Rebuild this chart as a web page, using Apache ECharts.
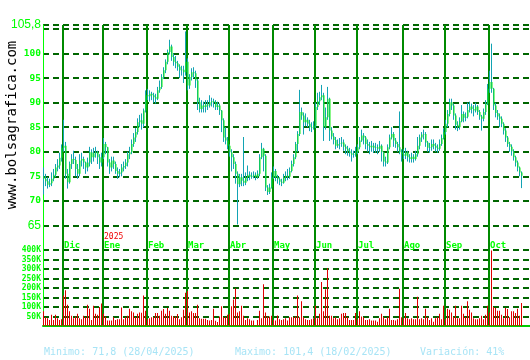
<!DOCTYPE html>
<html>
<head>
<meta charset="utf-8">
<script src="https://cdn.jsdelivr.net/npm/echarts@6/dist/echarts.min.js"></script>
<style>html,body{margin:0;padding:0;background:#fff}#c{width:530px;height:360px}</style>
</head>
<body>
<div id="c"></div>
<script>
// ---- data ----
const months = ['Nov','Dic','Ene','Feb','Mar','Abr','May','Jun','Jul','Ago','Sep','Oct'];
const monthDays = [10,20,22,20,21,22,21,21,23,21,22,21];
const yearMarks = {Ene:'2025'};
const priceTicks = {min:60, max:105.8, interval:5};
const volTicks = {min:0, max:400000, interval:50000};
const footer = ['Minimo: 71,8 (28/04/2025)','Maximo: 101,4 (18/02/2025)','Variación: 41%'];
const siteLabel = 'www.bolsagrafica.com';

const openP = [75.0,74.5,74.0,73.3,73.6,74.5,75.3,76.8,77.2,78.8,
80.8,81.2,75.5,73.8,77.5,78.5,78.3,76.5,75.5,78.2,
78.5,77.8,76.8,77.8,79.9,78.9,79.7,79.9,78.9,77.8,
78.9,81.6,80.9,77.8,76.8,78.2,77.5,76.1,75.5,75.8,
76.8,77.1,77.8,79.5,79.9,81.6,82.9,84.0,86.0,86.4,
85.7,88.4,91.5,91.3,91.8,91.5,91.1,90.8,92.5,93.2,
95.2,96.6,98.3,100.3,101.4,99.3,98.3,98.0,97.3,96.6,
96.7,96.2,98.3,93.5,95.2,96.2,96.0,94.5,90.1,88.7,
89.4,89.1,89.6,89.4,90.1,90.3,90.1,89.1,89.4,88.4,
86.4,82.9,82.3,81.2,79.9,78.9,77.5,75.5,73.4,74.8,
74.1,73.7,74.8,75.3,74.9,75.1,75.3,74.8,75.5,78.9,
80.6,79.2,72.7,71.8,72.7,74.8,76.1,74.8,74.4,73.9,
73.7,74.8,75.1,74.9,76.1,77.5,78.9,81.6,83.6,88.1,
87.4,86.0,86.5,85.7,85.0,84.9,85.3,89.1,90.3,91.1,
91.5,85.0,87.0,90.8,84.3,83.1,82.4,81.2,81.6,81.7,
81.9,81.0,80.6,80.1,79.7,79.4,79.5,79.9,80.9,82.3,
83.3,82.9,81.6,81.2,80.9,81.2,80.8,80.9,80.6,81.2,
79.9,78.0,77.8,80.9,82.9,83.6,82.3,81.6,80.9,79.9,
79.5,79.2,79.9,78.9,78.5,79.0,78.5,79.5,81.2,82.9,
83.5,83.6,81.9,80.8,80.9,81.6,81.2,80.8,80.6,81.6,
82.8,84.0,85.7,87.7,90.1,89.4,87.4,85.5,85.0,86.2,
87.7,86.9,87.1,88.5,89.2,88.7,88.4,89.2,88.1,87.2,
86.7,88.1,89.8,92.8,94.2,92.8,89.4,87.9,87.2,86.7,
85.7,84.3,82.9,81.6,81.0,80.1,78.9,77.8,76.8,75.8];

const closeP = [74.5,74.0,73.3,73.6,74.5,75.3,76.8,77.2,78.8,80.8,
81.2,75.5,73.8,77.5,78.5,78.3,76.5,75.5,78.2,78.5,
77.8,76.8,77.8,79.9,78.9,79.7,79.9,78.9,77.8,78.9,
81.6,80.9,77.8,76.8,78.2,77.5,76.1,75.5,75.8,76.8,
77.1,77.8,79.5,79.9,81.6,82.9,84.0,86.0,86.4,85.7,
88.4,91.5,91.3,91.8,91.5,91.1,90.8,92.5,93.2,95.2,
96.6,98.3,100.3,101.4,99.3,98.3,98.0,97.3,96.6,96.7,
96.2,98.3,93.5,95.2,96.2,96.0,94.5,90.1,88.7,89.4,
89.1,89.6,89.4,90.1,90.3,90.1,89.1,89.4,88.4,86.4,
82.9,82.3,81.2,79.9,78.9,77.5,75.5,73.4,74.8,74.1,
73.7,74.8,75.3,74.9,75.1,75.3,74.8,75.5,78.9,80.6,
79.2,72.7,71.8,72.7,74.8,76.1,74.8,74.4,73.9,73.7,
74.8,75.1,74.9,76.1,77.5,78.9,81.6,83.6,88.1,87.4,
86.0,86.5,85.7,85.0,84.9,85.3,89.1,90.3,91.1,91.5,
85.0,87.0,90.8,84.3,83.1,82.4,81.2,81.6,81.7,81.9,
81.0,80.6,80.1,79.7,79.4,79.5,79.9,80.9,82.3,83.3,
82.9,81.6,81.2,80.9,81.2,80.8,80.9,80.6,81.2,79.9,
78.0,77.8,80.9,82.9,83.6,82.3,81.6,80.9,79.9,79.5,
79.2,79.9,78.9,78.5,79.0,78.5,79.5,81.2,82.9,83.5,
83.6,81.9,80.8,80.9,81.6,81.2,80.8,80.6,81.6,82.8,
84.0,85.7,87.7,90.1,89.4,87.4,85.5,85.0,86.2,87.7,
86.9,87.1,88.5,89.2,88.7,88.4,89.2,88.1,87.2,86.7,
88.1,89.8,92.8,94.2,92.8,89.4,87.9,87.2,86.7,85.7,
84.3,82.9,81.6,81.0,80.1,78.9,77.8,76.8,75.8,75.1];

const highP = [76.8,75.5,74.8,74.5,75.8,76.5,77.5,78.5,79.8,81.5,
86.5,82.0,76.5,78.0,79.5,80.2,79.0,77.5,79.5,79.8,
79.0,78.0,78.8,81.0,80.5,80.8,81.0,80.2,79.5,79.8,
82.8,82.0,81.0,78.5,79.0,79.0,78.0,76.8,76.5,77.5,
78.0,78.5,80.0,81.0,82.5,83.8,84.8,86.8,87.5,87.8,
88.8,92.5,92.8,92.5,92.2,92.0,91.8,93.2,94.5,95.8,
97.2,98.8,100.8,102.8,101.8,100.0,99.5,98.5,97.8,97.5,
97.5,104.5,99.0,95.8,97.0,97.2,96.5,94.8,91.0,90.5,
90.2,90.5,90.5,91.5,91.0,90.8,90.5,90.2,89.8,88.5,
86.8,85.0,83.0,81.5,80.5,79.5,78.0,76.0,75.5,75.5,
83.0,75.8,77.2,76.0,75.8,76.0,75.8,76.2,79.5,81.8,
80.8,79.5,73.2,73.5,75.8,77.0,76.5,75.3,74.8,74.5,
75.5,76.0,76.5,76.8,78.2,79.5,82.0,84.2,92.6,89.0,
88.0,87.8,87.0,86.5,86.0,86.2,90.0,92.0,92.2,93.6,
92.0,89.0,93.2,91.0,85.0,83.8,83.0,82.5,82.8,83.0,
82.5,81.5,81.2,80.8,80.5,80.2,81.0,81.5,83.0,84.5,
83.8,83.2,82.5,82.0,82.2,81.8,81.8,81.5,82.2,81.5,
80.0,79.0,81.5,83.5,85.0,84.0,82.8,82.0,88.2,80.5,
80.5,80.8,80.2,79.5,79.8,79.5,80.2,83.0,83.5,84.0,
84.5,84.0,82.2,81.8,82.5,82.5,81.8,81.5,82.5,83.5,
84.8,86.5,88.5,90.8,90.8,89.8,87.8,86.2,87.0,89.5,
88.2,88.0,90.0,90.2,89.8,89.5,90.0,89.5,88.5,87.5,
88.8,90.5,93.8,96.5,102.0,93.0,90.0,88.5,87.8,87.2,
86.0,84.8,83.2,82.0,81.5,80.5,79.2,78.2,77.0,76.0];

const lowP = [71.3,73.0,72.5,72.8,73.0,74.0,74.8,76.0,76.5,78.0,
80.0,74.5,72.5,73.5,76.5,77.5,75.0,74.5,75.0,77.0,
76.5,75.5,76.0,77.0,77.5,78.0,78.8,77.5,76.5,77.0,
78.5,79.5,77.0,75.5,76.0,76.5,75.5,74.5,74.8,75.0,
76.0,76.5,77.0,78.5,79.5,81.0,82.0,83.5,85.0,84.5,
85.0,88.0,90.5,90.2,90.5,90.0,89.8,90.5,92.0,92.8,
94.8,96.0,97.8,99.8,98.5,97.5,97.0,96.5,95.0,95.5,
94.0,95.5,92.5,92.8,94.5,95.0,93.0,88.5,88.0,88.0,
88.0,88.0,88.5,89.0,89.2,89.0,88.5,88.5,87.5,84.0,
82.0,81.5,80.5,79.0,76.0,76.5,73.5,65.2,72.8,73.0,
73.0,73.2,74.0,74.2,74.5,74.6,74.2,74.5,75.0,78.5,
76.0,72.0,71.2,71.4,72.5,74.5,74.0,73.5,73.2,73.0,
73.5,74.0,74.2,74.5,75.8,77.0,78.5,80.0,83.2,86.5,
83.5,85.2,85.0,84.2,84.0,84.5,84.8,88.5,89.5,90.5,
82.2,84.5,86.5,82.2,82.5,81.5,80.5,80.8,80.5,81.0,
80.2,79.5,79.2,79.0,78.0,78.8,79.0,79.5,80.5,82.0,
81.5,80.5,80.0,79.5,80.0,79.8,79.8,79.5,80.0,78.0,
77.0,77.0,77.5,80.5,82.5,81.0,80.8,80.0,79.5,78.0,
78.5,78.5,78.0,77.8,77.8,77.8,78.2,79.0,80.5,82.0,
82.5,81.0,80.0,79.8,80.2,80.5,80.0,79.8,80.2,81.2,
82.5,83.5,85.0,87.2,88.5,86.5,84.5,84.2,84.5,86.0,
86.0,86.2,86.8,88.0,87.8,87.2,88.0,87.5,86.5,84.3,
86.2,87.5,89.5,92.0,92.0,88.5,87.0,86.5,85.0,85.0,
83.5,82.0,81.0,80.0,79.2,78.2,77.0,76.0,75.0,72.6];

// volume in thousands
const volumeK = [77,46,41,32,59,32,59,41,32,36,
161,188,112,77,54,41,50,64,41,36,
54,46,112,91,32,107,64,59,100,118,
64,50,29,29,29,46,32,36,36,98,
36,46,54,91,77,71,46,64,71,70,
161,80,36,41,46,46,68,68,54,80,
89,64,95,80,54,50,50,63,36,46,
86,175,184,71,77,68,68,112,41,38,
38,38,32,29,32,91,27,21,50,104,
46,46,59,63,104,139,198,71,77,107,
54,32,41,36,29,29,5,32,80,41,
220,71,50,50,54,32,29,55,36,32,
36,41,29,46,46,46,50,161,46,130,
46,36,32,32,36,41,107,41,64,232,
77,193,304,54,54,41,46,36,41,64,
68,68,46,32,32,32,68,36,77,50,
46,32,32,36,29,29,29,23,41,64,
46,36,46,91,32,32,29,36,196,46,
41,68,41,36,41,36,36,154,36,41,
36,91,46,32,41,23,41,46,64,36,
107,36,91,86,71,46,107,41,41,107,
64,46,130,86,71,41,36,36,41,54,
36,59,107,71,398,100,95,80,80,59,
41,95,89,46,77,77,68,91,54,121];

// ---- build structures for the library ----
const categories = [];
const monthStart = {};
months.forEach((m, mi) => {
  for (let d = 1; d <= monthDays[mi]; d++) {
    if (d === 1 && mi > 0) monthStart[categories.length] = m;
    categories.push(m + ' ' + d);
  }
});
const isMonthStart = (idx) => monthStart[idx] !== undefined;

const wickData = openP.map((o, i) => [o, closeP[i], lowP[i], highP[i]]);
const bodyData = openP.map((o, i) => [o, closeP[i], Math.min(o, closeP[i]), Math.max(o, closeP[i])]);
const volData = volumeK.map(v => v * 1000);

const GRID_GREEN = '#006600';
const MONTH_GREEN = '#008a00';
const LIME = '#00ff00';
const monoFont = 'DejaVu Sans Mono';
const PW = categories.length * 2; // 2 px per session

const hiddenCat = (g) => ({type: 'category', gridIndex: g, data: categories, boundaryGap: true, show: false});
const mkGrid = (left, top, height) => ({left: left, width: PW, top: top, height: height, outerBoundsMode: 'none', containLabel: false});

const chart = echarts.init(document.getElementById('c'), null, {renderer: 'canvas'});
chart.setOption({
  animation: false,
  backgroundColor: '#ffffff',
  grid: [
    mkGrid(43, 25, 225),
    mkGrid(43, 250, 76),
    mkGrid(42.5, 25, 225),
    mkGrid(42.5, 250, 76)
  ],
  xAxis: [
    {
      type: 'category', gridIndex: 0, data: categories, boundaryGap: true,
      axisLine: {show: false}, axisTick: {show: false},
      axisLabel: {
        show: true, inside: true, margin: 0, align: 'left',
        interval: (idx) => isMonthStart(idx),
        formatter: (val, idx) => {
          const m = val.split(' ')[0];
          const y = yearMarks[m] || ' ';
          return '{y|' + y + '}\n{m|' + m + '}';
        },
        rich: {
          y: {color: '#ee0000', fontFamily: monoFont, fontSize: 8, lineHeight: 8, align: 'left'},
          m: {color: LIME, fontFamily: monoFont, fontSize: 9, fontWeight: 'bold', lineHeight: 9, align: 'left'}
        }
      },
      splitLine: {show: true, interval: (idx) => isMonthStart(idx), lineStyle: {color: MONTH_GREEN, width: 2}}
    },
    {
      type: 'category', gridIndex: 1, data: categories, boundaryGap: true,
      axisLine: {show: true, lineStyle: {color: '#00cc00', width: 2}},
      axisTick: {show: false}, axisLabel: {show: false},
      splitLine: {show: true, interval: (idx) => isMonthStart(idx), lineStyle: {color: MONTH_GREEN, width: 2}}
    },
    hiddenCat(2),
    hiddenCat(3)
  ],
  yAxis: [
    {
      type: 'value', gridIndex: 0, min: priceTicks.min, max: priceTicks.max, interval: priceTicks.interval,
      axisLine: {show: true, lineStyle: {color: LIME, width: 1}},
      axisTick: {show: false},
      splitLine: {show: true, lineStyle: {color: GRID_GREEN, type: [6, 4], width: 2}},
      axisLabel: {
        margin: 2,
        formatter: (v) => {
          if (v === priceTicks.min || v === 105) return '';
          if (v === priceTicks.max) return '{b|' + String(v).replace('.', ',') + '}';
          if (v === 65) return '{b|65}';
          return '{s|' + v + '}';
        },
        rich: {
          b: {color: LIME, fontFamily: 'Liberation Sans', fontSize: 12},
          s: {color: LIME, fontFamily: monoFont, fontSize: 9.5, fontWeight: 'bold'}
        }
      }
    },
    {
      type: 'value', gridIndex: 1, min: volTicks.min, max: volTicks.max, interval: volTicks.interval,
      axisLine: {show: true, lineStyle: {color: LIME, width: 1}},
      axisTick: {show: false},
      splitLine: {show: true, lineStyle: {color: GRID_GREEN, type: [6, 4], width: 2}},
      axisLabel: {
        margin: 2, color: LIME, fontFamily: monoFont, fontSize: 8, fontWeight: 'bold',
        formatter: (v) => v === 0 ? '' : (v / 1000) + 'K'
      }
    },
    {type: 'value', gridIndex: 2, min: priceTicks.min, max: priceTicks.max, show: false},
    {type: 'value', gridIndex: 3, min: volTicks.min, max: volTicks.max, show: false}
  ],
  series: [
    {
      name: 'rango', type: 'candlestick', xAxisIndex: 2, yAxisIndex: 2, data: wickData, barWidth: 1,
      itemStyle: {color: '#12a3b4', color0: '#12a3b4', borderColor: '#12a3b4', borderColor0: '#12a3b4', borderWidth: 1}
    },
    {
      name: 'cuerpo', type: 'candlestick', xAxisIndex: 0, yAxisIndex: 0, data: bodyData, barWidth: 2,
      itemStyle: {color: '#11ee11', color0: '#11ee11', borderColor: '#11ee11', borderColor0: '#11ee11', borderWidth: 0}
    },
    {
      name: 'volumen', type: 'bar', xAxisIndex: 3, yAxisIndex: 3, data: volData, barWidth: 1,
      itemStyle: {color: '#e00000'}
    }
  ],
  graphic: [
    {type: 'text', x: 12, y: 125, rotation: Math.PI / 2,
     style: {text: siteLabel, fill: '#000', font: '14px "DejaVu Sans Mono"', align: 'center', verticalAlign: 'middle'}},
    {type: 'text', x: 44, y: 352,
     style: {text: footer[0], fill: '#a8e4f6', font: '10px "DejaVu Sans Mono"', align: 'left', verticalAlign: 'middle'}},
    {type: 'text', x: 235, y: 352,
     style: {text: footer[1], fill: '#a8e4f6', font: '10px "DejaVu Sans Mono"', align: 'left', verticalAlign: 'middle'}},
    {type: 'text', x: 420, y: 352,
     style: {text: footer[2], fill: '#a8e4f6', font: '10px "DejaVu Sans Mono"', align: 'left', verticalAlign: 'middle'}}
  ]
});
</script>
</body>
</html>
